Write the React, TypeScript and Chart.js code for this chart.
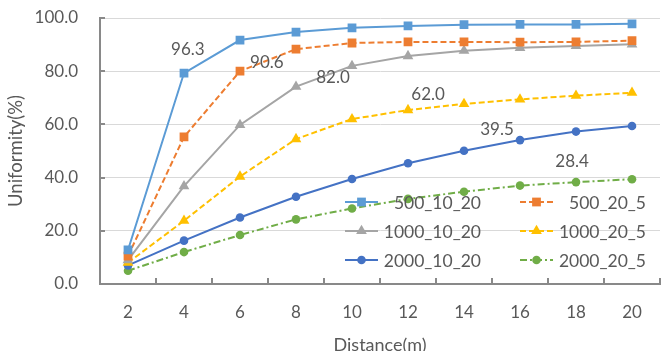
import React, { useEffect, useRef } from 'react';
import { Chart, registerables } from 'chart.js';

Chart.register(...registerables);

const distances = ['2', '4', '6', '8', '10', '12', '14', '16', '18', '20'];
const seriesNames = ['500_10_20', '500_20_5', '1000_10_20', '1000_20_5', '2000_10_20', '2000_20_5'];
const s500_10_20 = [12.8, 79.3, 91.7, 94.7, 96.3, 97.0, 97.5, 97.6, 97.6, 97.8];
const s500_20_5 = [10.5, 55.3, 80.0, 88.3, 90.6, 91.0, 91.0, 90.9, 91.0, 91.5];
const s1000_10_20 = [9.0, 36.8, 59.8, 74.2, 82.0, 85.7, 87.7, 88.8, 89.5, 90.1];
const s1000_20_5 = [8.0, 23.8, 40.4, 54.5, 62.0, 65.4, 67.7, 69.4, 70.8, 71.9];
const s2000_10_20 = [7.0, 16.3, 25.0, 32.8, 39.5, 45.4, 50.1, 54.1, 57.3, 59.4];
const s2000_20_5 = [5.0, 12.0, 18.4, 24.3, 28.4, 32.0, 34.7, 37.0, 38.3, 39.4];
const yTicks = [0, 20, 40, 60, 80, 100];
// index of the distance whose value is annotated (distance 10)
const annotatedIndex = 4;

const FONT = 'Lato, "Open Sans", sans-serif';
const TEXT = '#595959';
const AXIS = '#898989';

const colors = ['#5B9BD5', '#ED7D31', '#A5A5A5', '#FFC000', '#4472C4', '#70AD47'];
const markers = ['rect', 'rect', 'triangle', 'triangle', 'circle', 'circle'];
const dashes: number[][] = [[], [6, 3], [], [6, 3], [], [7, 3, 2, 3]];
const markerRadius = [6.2, 6.2, 6.2, 6.2, 4.3, 4.3];

// annotation anchors in data space (category index, value)
const annAnchors = [
  [1.07, 88.0],
  [2.48, 83.1],
  [3.66, 77.8],
  [5.36, 71.1],
  [6.59, 57.9],
  [7.93, 45.9],
];

// legend layout (px)
const legendCols = [
  { sampleX: 345, textRight: 481 },
  { sampleX: 520, textRight: 646 },
];
const legendRows = [202, 231, 260];
const sampleLen = 33;

function drawMarker(ctx: CanvasRenderingContext2D, style: string, x: number, y: number, r: number, color: string) {
  ctx.save();
  ctx.fillStyle = color;
  ctx.beginPath();
  if (style === 'rect') {
    const s = Math.SQRT1_2 * r;
    ctx.rect(x - s, y - s, 2 * s, 2 * s);
  } else if (style === 'triangle') {
    ctx.moveTo(x - r * 0.866, y + r * 0.5);
    ctx.lineTo(x + r * 0.866, y + r * 0.5);
    ctx.lineTo(x, y - r);
    ctx.closePath();
  } else {
    ctx.arc(x, y, r, 0, Math.PI * 2);
  }
  ctx.fill();
  ctx.restore();
}

const decorPlugin = {
  id: 'decor',
  afterDatasetsDraw(chart: any) {
    const { ctx, chartArea, scales } = chart;
    const xs = scales.x;
    const ys = scales.y;
    ctx.save();
    // inward tick marks
    ctx.strokeStyle = AXIS;
    ctx.lineWidth = 2;
    ctx.beginPath();
    for (let i = 0; i <= distances.length; i++) {
      const px = Math.round(xs.getPixelForValue(i - 0.5));
      ctx.moveTo(px, chartArea.bottom);
      ctx.lineTo(px, chartArea.bottom - 6);
    }
    for (const v of yTicks) {
      const py = Math.round(ys.getPixelForValue(v));
      ctx.moveTo(chartArea.left, py);
      ctx.lineTo(chartArea.left + 5, py);
    }
    ctx.stroke();

    // value annotations
    ctx.fillStyle = TEXT;
    ctx.font = `17px ${FONT}`;
    ctx.textAlign = 'center';
    ctx.textBaseline = 'middle';
    chart.data.datasets.forEach((ds: any, i: number) => {
      const [ax, ay] = annAnchors[i];
      ctx.fillText(Number(ds.data[annotatedIndex]).toFixed(1), xs.getPixelForValue(ax), ys.getPixelForValue(ay));
    });

    // legend
    chart.data.datasets.forEach((ds: any, i: number) => {
      const col = legendCols[i % 2];
      const y = legendRows[Math.floor(i / 2)];
      ctx.save();
      ctx.strokeStyle = ds.borderColor;
      ctx.lineWidth = ds.borderWidth;
      ctx.setLineDash(ds.borderDash || []);
      ctx.beginPath();
      ctx.moveTo(col.sampleX, y);
      ctx.lineTo(col.sampleX + sampleLen, y);
      ctx.stroke();
      ctx.restore();
      drawMarker(ctx, ds.pointStyle, col.sampleX + sampleLen / 2, y, ds.pointRadius, ds.borderColor);
      ctx.fillStyle = TEXT;
      ctx.textAlign = 'right';
      ctx.textBaseline = 'middle';
      ctx.font = `17.5px ${FONT}`;
      ctx.fillText(ds.label, col.textRight, y + 1);
    });
    ctx.restore();
  },
};

export default function App() {
  const ref = useRef<HTMLCanvasElement | null>(null);
  useEffect(() => {
    if (!ref.current) return;
    const all = [s500_10_20, s500_20_5, s1000_10_20, s1000_20_5, s2000_10_20, s2000_20_5];
    const chart = new Chart(ref.current, {
      type: 'line',
      data: {
        labels: distances,
        datasets: all.map((d, i) => ({
          label: seriesNames[i],
          data: d,
          borderColor: colors[i],
          backgroundColor: colors[i],
          borderWidth: 2,
          borderDash: dashes[i],
          pointStyle: markers[i] as any,
          pointRadius: markerRadius[i],
          pointBorderWidth: 0,
          pointBackgroundColor: colors[i],
          pointBorderColor: colors[i],
          tension: 0,
          fill: false,
        })),
      },
      options: {
        animation: false,
        responsive: false,
        maintainAspectRatio: false,
        layout: { padding: { top: 18, right: 9, left: 0, bottom: 0 } },
        plugins: {
          legend: { display: false },
          tooltip: { enabled: false },
        },
        scales: {
          x: {
            type: 'category',
            offset: true,
            grid: { display: true, drawOnChartArea: false, drawTicks: false },
            border: { display: true, color: AXIS, width: 2 },
            ticks: { color: TEXT, font: { family: FONT, size: 17 }, padding: 18, maxRotation: 0 },
            title: {
              display: true,
              text: 'Distance(m)',
              color: TEXT,
              font: { family: FONT, size: 18 },
              padding: { top: 0, bottom: -5 },
            },
            afterFit: (s: any) => { s.height = 67; s.paddingLeft = 0; s.paddingRight = 0; },
          },
          y: {
            min: 0,
            max: 100,
            ticks: {
              stepSize: 20,
              color: TEXT,
              font: { family: FONT, size: 17 },
              padding: 22,
              callback: (v: any) => Number(v).toFixed(1),
            },
            grid: { color: '#D9D9D9', lineWidth: 1, drawTicks: false },
            border: { display: true, color: AXIS, width: 2 },
            title: {
              display: true,
              text: 'Uniformity(%)',
              color: TEXT,
              font: { family: FONT, size: 18.5 },
              padding: { top: 5, bottom: 0 },
            },
            afterFit: (s: any) => { s.width = 100; s.paddingTop = 0; s.paddingBottom = 0; },
          },
        },
      },
      plugins: [decorPlugin],
    });
    return () => chart.destroy();
  }, []);
  return (
    <div style={{ position: 'fixed', left: 0, top: 0, width: 669, height: 351, background: '#fff' }}>
      <canvas ref={ref} width={669} height={351} style={{ width: 669, height: 351, display: 'block' }} />
    </div>
  );
}
